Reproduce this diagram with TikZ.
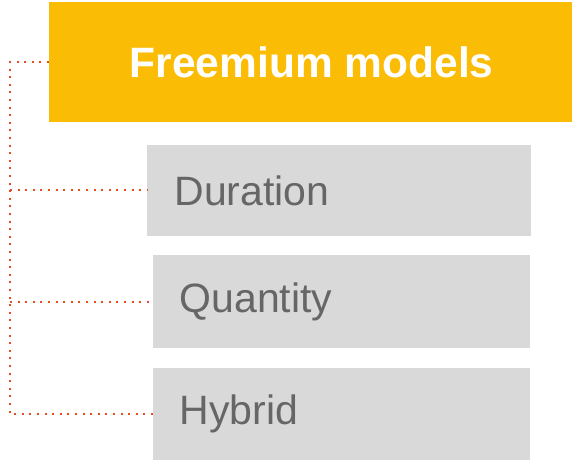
\documentclass[tikz,border=0pt]{standalone}
\usepackage{fontspec}
\setmainfont{Liberation Sans}
\definecolor{fyellow}{HTML}{FBBC05}
\definecolor{fgray}{HTML}{D9D9D9}
\definecolor{ftext}{HTML}{666666}
\definecolor{fred}{HTML}{EA4A22}
\begin{document}
\begin{tikzpicture}[x=1pt,y=-1pt,
  titlebox/.style={fill=fyellow,draw=none,inner sep=0pt},
  itembox/.style={fill=fgray,draw=none,inner sep=0pt},
  conn/.style={draw=fred,line width=2pt,dash pattern=on 2pt off 5.6pt}]
\useasboundingbox (0,0) rectangle (572,460);
\node[titlebox,minimum width=523pt,minimum height=120pt,anchor=north west] (title) at (49,2) {};
\node[text=white,font=\bfseries\fontsize{42.5}{48}\selectfont] (tt) at ([xshift=1pt]title.center) {Freemium models};
\node[itembox,minimum width=384pt,minimum height=91pt,anchor=north west] (dur) at (147,145) {};
\node[itembox,minimum width=377pt,minimum height=93pt,anchor=north west] (qua) at (153,255) {};
\node[itembox,minimum width=377pt,minimum height=92pt,anchor=north west] (hyb) at (153,368) {};
\node[text=ftext,font=\fontsize{41}{46}\selectfont,anchor=west] (durt) at ([xshift=24pt]dur.west) {Duration};
\node[text=ftext,font=\fontsize{41}{46}\selectfont,anchor=west] (quat) at ([xshift=23pt]qua.west) {Quantity};
\node[text=ftext,font=\fontsize{41}{46}\selectfont,anchor=west] (hybt) at ([xshift=23pt]hyb.west) {Hybrid};
\coordinate (c0) at (10,62);
\coordinate (c1) at (10,190);
\coordinate (c2) at (10,302);
\coordinate (c3) at (10,414);
\draw[conn] (title.west |- c0) -- (c0) -- (c3) -- (hyb.west |- c3);
\draw[conn] (c1) -- (dur.west |- c1);
\draw[conn] (c2) -- (qua.west |- c2);
\end{tikzpicture}
\end{document}
